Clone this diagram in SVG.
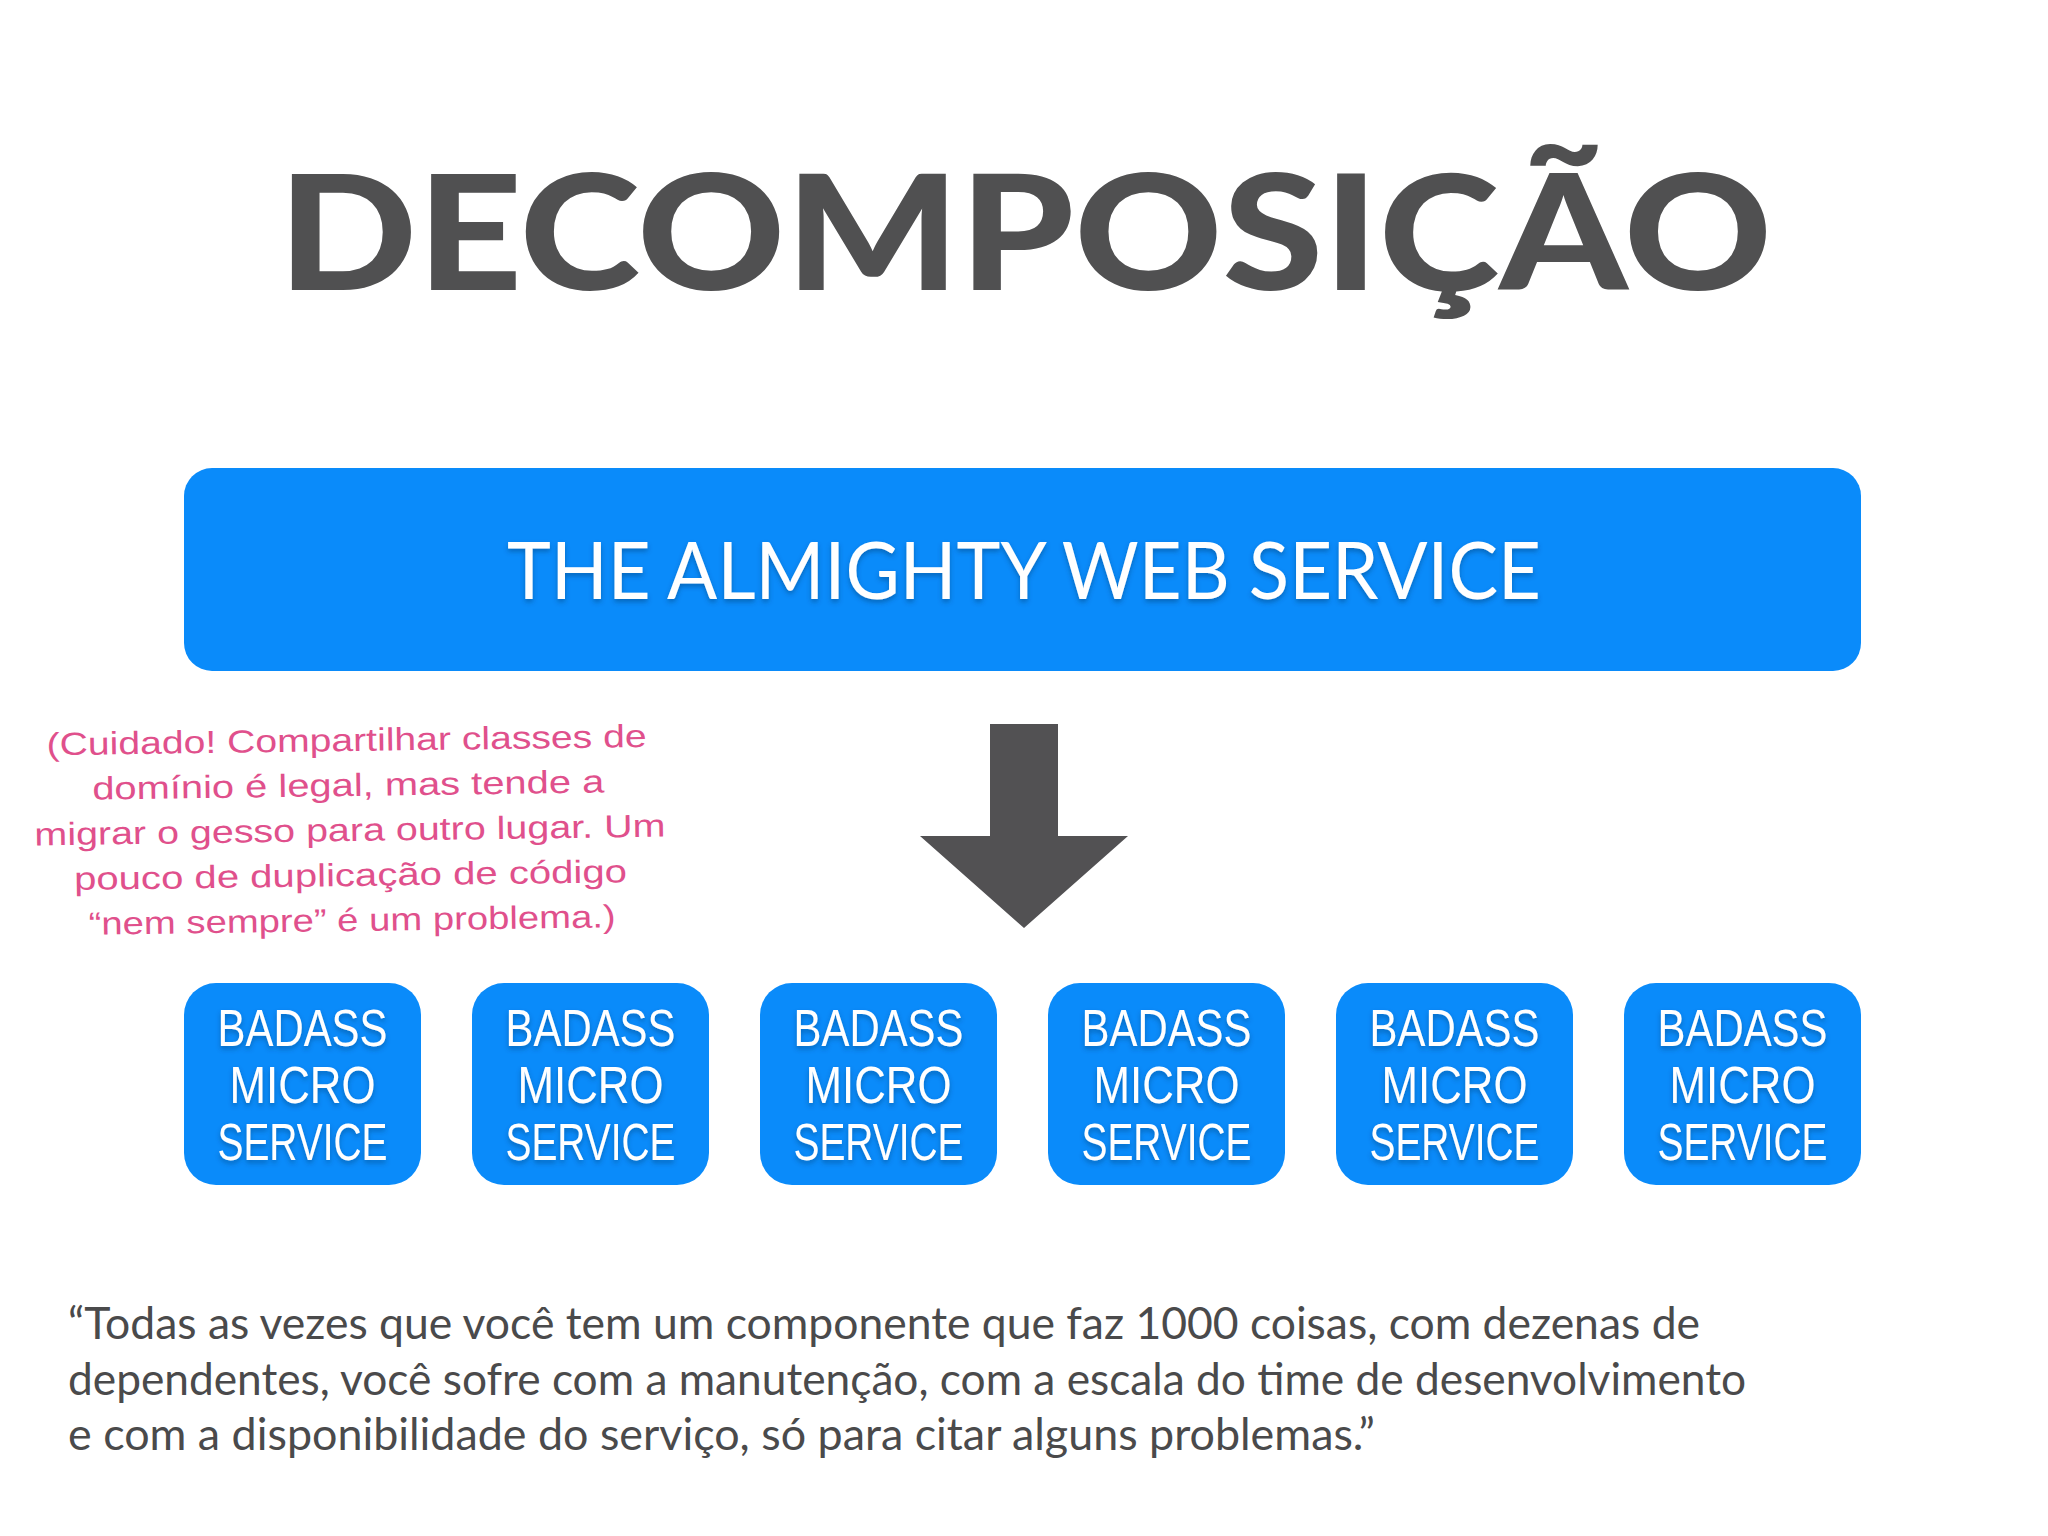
<svg xmlns="http://www.w3.org/2000/svg" width="2048" height="1536" viewBox="0 0 2048 1536">
<defs>
<filter id="ts" x="-10%" y="-20%" width="120%" height="150%">
<feDropShadow dx="0" dy="3" stdDeviation="2.5" flood-color="#003a70" flood-opacity="0.45"/>
</filter>
<style>
.title{font-family:Lato,"Open Sans","Liberation Sans",sans-serif;font-weight:900;font-size:160px;fill:#505051}
.box{fill:#0a8bfa}
.big{font-family:Lato,"Liberation Sans",sans-serif;font-size:80px;fill:#ffffff}
.ms{font-family:"Liberation Sans",Lato,sans-serif;font-size:51px;fill:#ffffff;text-anchor:middle}
.note{font-family:"Liberation Sans","DejaVu Sans",sans-serif;font-size:32px;fill:#e0508c;text-anchor:middle}
.quote{font-family:Lato,"Liberation Sans",sans-serif;font-size:45px;fill:#4a4a4b}
</style>
</defs>
<rect x="0" y="0" width="2048" height="1536" fill="#ffffff"/>

<g id="title">
<text class="title" x="278" y="290" textLength="1494" lengthAdjust="spacingAndGlyphs">DECOMPOSIÇÃO</text>
</g>

<g id="almighty">
<rect class="box" x="184" y="468" width="1677" height="203" rx="28"/>
<text class="big" x="507" y="599" textLength="1034" lengthAdjust="spacingAndGlyphs" filter="url(#ts)">THE ALMIGHTY WEB SERVICE</text>
</g>

<g id="connectors">
<polygon points="990,724 1058,724 1058,836 1128,836 1024,928 920,836 990,836" fill="#525153"/>
</g>

<g id="note" transform="rotate(-0.8 350 840)">
<text class="note" x="348" y="751" textLength="600" lengthAdjust="spacingAndGlyphs">(Cuidado! Compartilhar classes de</text>
<text class="note" x="349" y="796" textLength="512" lengthAdjust="spacingAndGlyphs">domínio é legal, mas tende a</text>
<text class="note" x="350" y="841" textLength="631" lengthAdjust="spacingAndGlyphs">migrar o gesso para outro lugar. Um</text>
<text class="note" x="350" y="886" textLength="553" lengthAdjust="spacingAndGlyphs">pouco de duplicação de código</text>
<text class="note" x="351" y="931" textLength="527" lengthAdjust="spacingAndGlyphs">“nem sempre” é um problema.)</text>
</g>

<g id="ms1">
<rect class="box" x="184" y="983" width="237" height="202" rx="32"/>
<g filter="url(#ts)">
<text class="ms" x="302.5" y="1046" textLength="170" lengthAdjust="spacingAndGlyphs">BADASS</text>
<text class="ms" x="302.5" y="1103" textLength="146" lengthAdjust="spacingAndGlyphs">MICRO</text>
<text class="ms" x="302.5" y="1160" textLength="170" lengthAdjust="spacingAndGlyphs">SERVICE</text>
</g>
</g>
<g id="ms2">
<rect class="box" x="472" y="983" width="237" height="202" rx="32"/>
<g filter="url(#ts)">
<text class="ms" x="590.5" y="1046" textLength="170" lengthAdjust="spacingAndGlyphs">BADASS</text>
<text class="ms" x="590.5" y="1103" textLength="146" lengthAdjust="spacingAndGlyphs">MICRO</text>
<text class="ms" x="590.5" y="1160" textLength="170" lengthAdjust="spacingAndGlyphs">SERVICE</text>
</g>
</g>
<g id="ms3">
<rect class="box" x="760" y="983" width="237" height="202" rx="32"/>
<g filter="url(#ts)">
<text class="ms" x="878.5" y="1046" textLength="170" lengthAdjust="spacingAndGlyphs">BADASS</text>
<text class="ms" x="878.5" y="1103" textLength="146" lengthAdjust="spacingAndGlyphs">MICRO</text>
<text class="ms" x="878.5" y="1160" textLength="170" lengthAdjust="spacingAndGlyphs">SERVICE</text>
</g>
</g>
<g id="ms4">
<rect class="box" x="1048" y="983" width="237" height="202" rx="32"/>
<g filter="url(#ts)">
<text class="ms" x="1166.5" y="1046" textLength="170" lengthAdjust="spacingAndGlyphs">BADASS</text>
<text class="ms" x="1166.5" y="1103" textLength="146" lengthAdjust="spacingAndGlyphs">MICRO</text>
<text class="ms" x="1166.5" y="1160" textLength="170" lengthAdjust="spacingAndGlyphs">SERVICE</text>
</g>
</g>
<g id="ms5">
<rect class="box" x="1336" y="983" width="237" height="202" rx="32"/>
<g filter="url(#ts)">
<text class="ms" x="1454.5" y="1046" textLength="170" lengthAdjust="spacingAndGlyphs">BADASS</text>
<text class="ms" x="1454.5" y="1103" textLength="146" lengthAdjust="spacingAndGlyphs">MICRO</text>
<text class="ms" x="1454.5" y="1160" textLength="170" lengthAdjust="spacingAndGlyphs">SERVICE</text>
</g>
</g>
<g id="ms6">
<rect class="box" x="1624" y="983" width="237" height="202" rx="32"/>
<g filter="url(#ts)">
<text class="ms" x="1742.5" y="1046" textLength="170" lengthAdjust="spacingAndGlyphs">BADASS</text>
<text class="ms" x="1742.5" y="1103" textLength="146" lengthAdjust="spacingAndGlyphs">MICRO</text>
<text class="ms" x="1742.5" y="1160" textLength="170" lengthAdjust="spacingAndGlyphs">SERVICE</text>
</g>
</g>

<g id="quote">
<text class="quote" x="68" y="1339" textLength="1632" lengthAdjust="spacingAndGlyphs">“Todas as vezes que você tem um componente que faz 1000 coisas, com dezenas de</text>
<text class="quote" x="68" y="1395" textLength="1678" lengthAdjust="spacingAndGlyphs">dependentes, você sofre com a manutenção, com a escala do time de desenvolvimento</text>
<text class="quote" x="68" y="1450" textLength="1307" lengthAdjust="spacingAndGlyphs">e com a disponibilidade do serviço, só para citar alguns problemas.”</text>
</g>
</svg>
